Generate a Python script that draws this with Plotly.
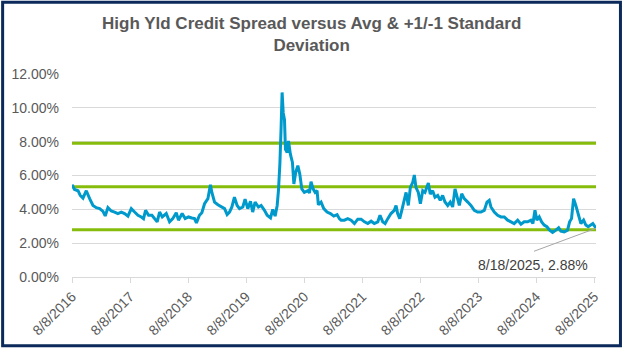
import plotly.graph_objects as go

# ---- data ----
dates = [
    "2016-08-08", "2016-08-24", "2016-09-15", "2016-09-29", "2016-10-16", "2016-11-06", "2016-11-27", "2016-12-18",
    "2017-01-08", "2017-01-29", "2017-02-19", "2017-03-05", "2017-03-22", "2017-04-12", "2017-05-03", "2017-05-24",
    "2017-06-14", "2017-07-05", "2017-07-26", "2017-08-16", "2017-09-06", "2017-09-27", "2017-10-18", "2017-11-01",
    "2017-11-14", "2017-12-03", "2017-12-24", "2018-01-09", "2018-01-26", "2018-02-10", "2018-02-27", "2018-03-24",
    "2018-04-14", "2018-05-04", "2018-05-26", "2018-06-09", "2018-07-02", "2018-07-21", "2018-08-11", "2018-09-01",
    "2018-09-18", "2018-09-30", "2018-10-19", "2018-11-03", "2018-11-20", "2018-12-11", "2018-12-27", "2019-01-05",
    "2019-01-22", "2019-02-12", "2019-03-05", "2019-03-26", "2019-04-11", "2019-04-26", "2019-05-11", "2019-05-27",
    "2019-06-13", "2019-06-28", "2019-07-19", "2019-08-02", "2019-08-19", "2019-09-05", "2019-09-19", "2019-10-04",
    "2019-10-25", "2019-11-11", "2019-12-02", "2019-12-19", "2020-01-09", "2020-01-23", "2020-02-07", "2020-02-20",
    "2020-02-28", "2020-03-08", "2020-03-16", "2020-03-22", "2020-03-29", "2020-04-06", "2020-04-12", "2020-04-23",
    "2020-05-01", "2020-05-13", "2020-05-26", "2020-06-04", "2020-06-16", "2020-06-29", "2020-07-11", "2020-07-24",
    "2020-08-09", "2020-08-31", "2020-09-10", "2020-09-20", "2020-10-03", "2020-10-16", "2020-10-28", "2020-11-05",
    "2020-11-22", "2020-12-09", "2020-12-30", "2021-01-20", "2021-02-10", "2021-03-03", "2021-03-17", "2021-03-28",
    "2021-04-18", "2021-05-09", "2021-05-30", "2021-06-20", "2021-07-11", "2021-08-01", "2021-08-22", "2021-09-12",
    "2021-10-03", "2021-10-23", "2021-11-14", "2021-11-28", "2021-12-15", "2021-12-30", "2022-01-16", "2022-02-05",
    "2022-02-26", "2022-03-09", "2022-03-19", "2022-04-01", "2022-04-14", "2022-04-26", "2022-05-11", "2022-05-25",
    "2022-06-07", "2022-06-22", "2022-07-02", "2022-07-12", "2022-07-27", "2022-08-09", "2022-08-24", "2022-09-07",
    "2022-09-19", "2022-09-28", "2022-10-10", "2022-10-25", "2022-11-09", "2022-11-26", "2022-12-12", "2022-12-27",
    "2023-01-11", "2023-01-28", "2023-02-13", "2023-02-28", "2023-03-15", "2023-03-27", "2023-04-11", "2023-04-26",
    "2023-05-12", "2023-06-03", "2023-06-23", "2023-07-14", "2023-08-04", "2023-08-25", "2023-09-15", "2023-10-02",
    "2023-10-16", "2023-10-27", "2023-11-17", "2023-12-08", "2023-12-29", "2024-01-19", "2024-02-09", "2024-03-01",
    "2024-03-21", "2024-04-12", "2024-05-03", "2024-05-23", "2024-06-14", "2024-07-04", "2024-07-17", "2024-07-30",
    "2024-08-11", "2024-08-26", "2024-09-10", "2024-09-26", "2024-10-13", "2024-10-30", "2024-11-18", "2024-12-09",
    "2024-12-26", "2025-01-09", "2025-01-30", "2025-02-20", "2025-03-05", "2025-03-17", "2025-03-30", "2025-04-13",
    "2025-04-28", "2025-05-15", "2025-06-01", "2025-06-15", "2025-06-30", "2025-07-17", "2025-07-29", "2025-08-18",
]
spread = [
    5.45, 5.17, 5.10, 4.82, 4.66, 5.10, 4.63, 4.23,
    4.10, 4.04, 3.88, 3.61, 4.10, 3.90, 3.84, 3.75,
    3.84, 3.75, 3.60, 4.04, 3.84, 3.65, 3.55, 3.45,
    3.94, 3.65, 3.65, 3.45, 3.26, 3.84, 3.55, 3.75,
    3.26, 3.45, 3.80, 3.36, 3.75, 3.45, 3.55, 3.49,
    3.45, 3.20, 3.65, 3.80, 4.33, 4.63, 5.45, 5.00,
    4.43, 4.27, 4.14, 4.04, 3.69, 3.84, 4.14, 4.72,
    4.23, 4.04, 4.14, 4.60, 4.04, 4.47, 3.84, 4.43,
    4.14, 4.23, 3.94, 3.65, 3.49, 3.99, 3.60, 4.23,
    5.10, 6.67, 8.92, 10.91, 9.70, 9.30, 7.55, 7.35,
    8.04, 7.26, 6.77, 5.50, 6.20, 6.58, 6.10, 5.21,
    5.00, 5.10, 4.97, 5.64, 5.21, 5.00, 5.10, 4.27,
    4.43, 4.04, 3.84, 3.75, 3.60, 3.69, 3.45, 3.36,
    3.36, 3.45, 3.36, 3.16, 3.42, 3.42, 3.26, 3.16,
    3.30, 3.16, 3.26, 3.65, 3.26, 3.16, 3.45, 3.75,
    3.94, 4.23, 3.75, 3.45, 3.94, 4.43, 5.00, 4.23,
    5.30, 5.60, 6.03, 5.30, 5.00, 4.33, 5.10, 5.00,
    5.30, 5.56, 4.90, 5.10, 4.72, 4.82, 4.53, 4.82,
    4.43, 4.23, 4.43, 4.14, 5.21, 4.82, 4.23, 4.92,
    4.63, 4.43, 4.23, 3.94, 3.84, 3.84, 3.94, 4.43,
    4.53, 4.14, 3.84, 3.65, 3.55, 3.55, 3.36, 3.26,
    3.16, 3.36, 3.12, 3.26, 3.26, 3.36, 3.16, 3.94,
    3.36, 3.55, 3.26, 3.07, 2.97, 2.77, 2.64, 2.77,
    2.91, 2.71, 2.67, 2.77, 3.26, 3.45, 4.63, 4.23,
    3.65, 3.16, 3.36, 3.07, 2.97, 3.07, 3.16, 2.88,
]
avg_level = 5.33
plus_1sd = 7.90
minus_1sd = 2.79

tick_dates = ["2016-08-08", "2017-08-08", "2018-08-08", "2019-08-08", "2020-08-08",
              "2021-08-08", "2022-08-08", "2023-08-08", "2024-08-08", "2025-08-08"]
tick_labels = ["8/8/2016", "8/8/2017", "8/8/2018", "8/8/2019", "8/8/2020",
               "8/8/2021", "8/8/2022", "8/8/2023", "8/8/2024", "8/8/2025"]
y_ticks = [0, 2, 4, 6, 8, 10, 12]
y_labels = ["0.00%", "2.00%", "4.00%", "6.00%", "8.00%", "10.00%", "12.00%"]

title_text = "High Yld Credit Spread versus Avg & +1/-1 Standard<br>Deviation"
label_text = "8/18/2025, 2.88%"

# ---- styles ----
W, H = 623, 350
ML, MR, MT, MB = 71, 27, 74, 71
BLUE = "#0099CC"
GREEN = "#86BC0B"
GRID = "#D9D9D9"
TXT = "#595959"
NAVY = "#0B2A5B"
FONT = "Liberation Sans, Arial, sans-serif"

fig = go.Figure()
x_span = [dates[0], dates[-1]]
for lvl in (plus_1sd, avg_level, minus_1sd):
    fig.add_trace(go.Scatter(x=x_span, y=[lvl, lvl], mode="lines",
                             line=dict(color=GREEN, width=3), hoverinfo="skip"))
fig.add_trace(go.Scatter(x=dates, y=spread, mode="lines",
                         line=dict(color=BLUE, width=3)))

fig.update_layout(
    width=W, height=H,
    margin=dict(l=ML, r=MR, t=MT, b=MB),
    paper_bgcolor="white", plot_bgcolor="white",
    showlegend=False,
    font=dict(family=FONT, size=14, color=TXT),
    xaxis=dict(type="date", range=[dates[0], dates[-1]],
               tickvals=tick_dates, ticktext=tick_labels, tickangle=-45,
               showgrid=False, showline=True, linecolor=GRID, linewidth=1,
               ticks="outside", ticklen=5, tickcolor=GRID, tickwidth=1,
               tickfont=dict(size=14, color=TXT), zeroline=False),
    yaxis=dict(range=[0, 12], tickvals=y_ticks, ticktext=y_labels,
               showgrid=True, gridcolor=GRID, gridwidth=1, zeroline=False,
               showline=False, ticks="", ticklabelstandoff=12,
               tickfont=dict(size=14, color=TXT)),
)

pw, ph = W - ML - MR, H - MT - MB
def px_x(p):
    return (p - ML) / pw
def px_y(p):
    return (H - MB - p) / ph

# title (two lines, centred)
fig.add_annotation(xref="paper", yref="paper", x=px_x(311), y=px_y(11),
                   xanchor="center", yanchor="top", showarrow=False,
                   text="<b>" + title_text + "</b>", align="center",
                   font=dict(family=FONT, size=17, color=TXT))

# leader line + data label for the last point
fig.add_shape(type="line", xref="x", yref="y", xsizemode="pixel", ysizemode="pixel",
              xanchor=dates[-1], yanchor=spread[-1], x0=0, y0=0, x1=-62, y1=-23,
              line=dict(color="#A6A6A6", width=1))
fig.add_annotation(x=dates[-1], y=spread[-1], text=label_text, showarrow=False,
                   xshift=-63, yshift=-37, font=dict(size=14, color="#404040"))

# outer border of the chart
fig.add_shape(type="rect", xref="paper", yref="paper",
              x0=px_x(1.5), x1=px_x(620.5), y0=px_y(348.5), y1=px_y(1.5),
              line=dict(color=NAVY, width=3), fillcolor="rgba(0,0,0,0)", layer="above")

fig.write_html("out.html")
